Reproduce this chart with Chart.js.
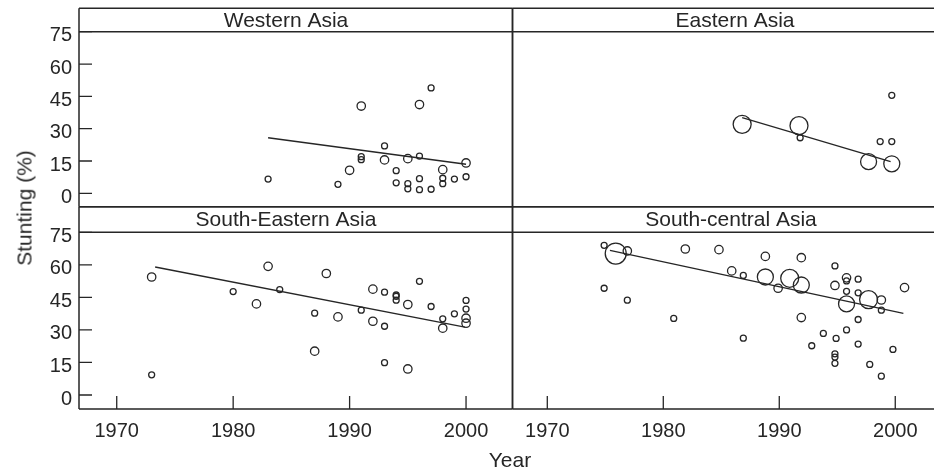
<!DOCTYPE html>
<html>
<head>
<meta charset="utf-8">
<script src="https://cdn.jsdelivr.net/npm/chart.js@4"></script>
<style>
  body { margin: 0; background: #fff; }
  #wrap { position: relative; width: 934px; height: 470px; overflow: hidden; }
  #wrap canvas { position: absolute; left: 0; top: 0; }
  .lab { position: absolute; font: 21px "Liberation Sans", Arial, sans-serif; color: #262626; line-height: 1; white-space: nowrap; }
</style>
</head>
<body>
<div id="wrap">
  <canvas id="pTL" width="934" height="470"></canvas>
  <canvas id="pTR" width="934" height="470"></canvas>
  <canvas id="pBL" width="934" height="470"></canvas>
  <canvas id="pBR" width="934" height="470"></canvas>
  <div class="lab" style="left:24px; top:208px; transform: translate(-50%,-50%) rotate(-90deg);">Stunting (%)</div>
  <div class="lab" style="left:510px; top:459px; transform: translate(-50%,-50%);">Year</div>
</div>
<script>
// axes
const yTicks = [0, 15, 30, 45, 60, 75];
const xTicks = [1970, 1980, 1990, 2000];

// Western Asia
const waYears   = [1983, 1989, 1990, 1991, 1991, 1991, 1993, 1993, 1994, 1994, 1995, 1995, 1995, 1996, 1996, 1996, 1996, 1997, 1997, 1998, 1998, 1998, 1999, 2000, 2000];
const waValues  = [6.6, 4.2, 10.7, 40.5, 17.0, 15.6, 22.0, 15.5, 10.5, 4.9, 16.1, 4.5, 2.1, 41.2, 17.3, 6.8, 1.7, 48.9, 1.9, 11.0, 7.0, 4.5, 6.6, 14.1, 7.7];
const waWeights = [1, 1, 2, 2, 1, 1, 1, 2, 1, 1, 2, 1, 1, 2, 1, 1, 1, 1, 1, 2, 1, 1, 1, 2, 1];
const waFitYears = [1983, 2000];
const waFitValues = [25.8, 13.5];

// Eastern Asia
const eaYears   = [1986.8, 1991.7, 1991.8, 1997.7, 1999.7, 1998.7, 1999.7, 1999.7];
const eaValues  = [32.0, 31.4, 25.8, 14.7, 13.7, 24.0, 24.0, 45.5];
const eaWeights = [4, 4, 1, 3, 3, 1, 1, 1];
const eaFitYears = [1986.8, 1999.6];
const eaFitValues = [35.1, 14.7];

// South-Eastern Asia
const seaYears   = [1973, 1973, 1980, 1982, 1983, 1984, 1987, 1987, 1988, 1989, 1991, 1992, 1992, 1993, 1993, 1993, 1994, 1994, 1994, 1995, 1995, 1996, 1997, 1998, 1998, 1999, 2000, 2000, 2000, 2000];
const seaValues  = [54.4, 9.3, 47.7, 42.0, 59.3, 48.6, 37.7, 20.2, 56.0, 36.0, 39.1, 48.8, 34.0, 47.4, 31.7, 14.9, 46.1, 45.5, 43.7, 41.7, 12.0, 52.4, 40.8, 35.1, 30.8, 37.4, 43.6, 39.6, 35.4, 33.1];
const seaWeights = [2, 1, 1, 2, 2, 1, 1, 2, 2, 2, 1, 2, 2, 1, 1, 1, 1, 1, 1, 2, 2, 1, 1, 1, 2, 1, 1, 1, 2, 2];
const seaFitYears = [1973.3, 1999.9];
const seaFitValues = [59.0, 31.3];

// South-central Asia
const scaYears   = [1974.9, 1975.9, 1976.9, 1974.9, 1976.9, 1980.9, 1981.9, 1984.8, 1985.9, 1986.9, 1986.9, 1988.8, 1988.8, 1989.9, 1990.9, 1991.9, 1991.9, 1991.9, 1992.8, 1993.8, 1994.8, 1994.8, 1994.9, 1994.8, 1994.8, 1994.8, 1995.8, 1995.8, 1995.8, 1995.8, 1995.8, 1996.8, 1996.8, 1996.8, 1996.8, 1997.7, 1997.8, 1998.8, 1998.8, 1998.8, 1999.8, 2000.8];
const scaValues  = [69.0, 65.2, 66.4, 49.2, 43.7, 35.3, 67.3, 67.0, 57.2, 55.1, 26.2, 63.9, 54.4, 49.2, 53.8, 63.3, 50.7, 35.7, 22.7, 28.4, 59.5, 50.5, 26.1, 19.0, 17.5, 14.6, 54.0, 52.6, 47.8, 42.0, 30.0, 53.4, 47.1, 34.8, 23.5, 44.0, 14.1, 43.8, 39.1, 8.7, 21.0, 49.5];
const scaWeights = [1, 5, 2, 1, 1, 1, 2, 2, 2, 1, 1, 2, 3, 2, 4, 2, 3, 2, 1, 1, 1, 2, 1, 1, 1, 1, 2, 1, 1, 3, 1, 1, 1, 1, 1, 4, 1, 2, 1, 1, 1, 2];
const scaFitYears = [1975.4, 2000.7];
const scaFitValues = [66.7, 37.6];

const INK = '#262626';
const FONT = '"Liberation Sans", Arial, sans-serif';
const RADIUS = { 1: 3, 2: 4.2, 3: 8, 4: 9, 5: 10.5 };

// frame, strip and inward ticks
const panelFrame = {
    id: 'panelFrame',
    afterDraw(chart, args, opts) {
        const { ctx, chartArea: a } = chart;
        ctx.save();
        ctx.strokeStyle = INK;
        ctx.lineWidth = 1.5;
        ctx.beginPath();
        ctx.moveTo(a.left, opts.stripTop); ctx.lineTo(a.right, opts.stripTop);
        ctx.moveTo(a.left, a.top); ctx.lineTo(a.right, a.top);
        ctx.moveTo(a.left, a.bottom); ctx.lineTo(a.right, a.bottom);
        ctx.moveTo(a.left, opts.stripTop); ctx.lineTo(a.left, a.bottom);
        if (a.right < chart.width - 1) {
            ctx.moveTo(a.right, opts.stripTop); ctx.lineTo(a.right, a.bottom);
        }
        ctx.stroke();

        // inward tick marks
        ctx.lineWidth = 1.3;
        ctx.beginPath();
        const xs = chart.scales.x, ys = chart.scales.y;
        if (xs.options.display) {
            xs.ticks.forEach(t => {
                const px = xs.getPixelForValue(t.value);
                ctx.moveTo(px, a.bottom); ctx.lineTo(px, a.bottom - 13);
            });
        }
        if (ys.options.display) {
            ys.ticks.forEach(t => {
                const py = ys.getPixelForValue(t.value);
                ctx.moveTo(a.left, py); ctx.lineTo(a.left + 13, py);
            });
        }
        ctx.stroke();

        ctx.fillStyle = INK;
        ctx.font = '21px ' + FONT;
        ctx.textAlign = 'center';
        ctx.textBaseline = 'middle';
        ctx.fillText(opts.title, opts.titleX, (opts.stripTop + a.top) / 2 + 1);
        ctx.restore();
    }
};

function makePanel(id, p) {
    const pts = p.years.map((x, i) => ({ x: x, y: p.values[i] }));
    const fit = p.fitYears.map((x, i) => ({ x: x, y: p.fitValues[i] }));
    const rad = ctx => RADIUS[p.weights[ctx.dataIndex]];
    new Chart(document.getElementById(id), {
        type: 'scatter',
        data: {
            datasets: [{
                data: pts,
                borderColor: INK,
                backgroundColor: 'rgba(0,0,0,0)',
                borderWidth: 1.3,
                pointRadius: rad,
                pointHoverRadius: rad
            }, {
                data: fit,
                showLine: true,
                borderColor: INK,
                borderWidth: 1.3,
                pointRadius: 0,
                fill: false
            }]
        },
        options: {
            responsive: false,
            animation: false,
            devicePixelRatio: 1,
            events: [],
            layout: { padding: p.padding, autoPadding: false },
            plugins: {
                legend: { display: false },
                tooltip: { enabled: false },
                panelFrame: { title: p.title, titleX: p.titleX, stripTop: p.stripTop }
            },
            scales: {
                x: {
                    type: 'linear',
                    position: 'bottom',
                    display: p.showX,
                    min: p.xMin,
                    max: p.xMax,
                    afterBuildTicks: s => { s.ticks = xTicks.map(v => ({ value: v })); },
                    afterFit: s => { s.height = p.showX ? 61 : 0; s.paddingLeft = 0; s.paddingRight = 0; },
                    grid: { display: false, drawTicks: false },
                    border: { display: false },
                    ticks: {
                        padding: 10, color: INK, font: { family: FONT, size: 20 },
                        maxRotation: 0, autoSkip: false,
                        callback: v => String(v)
                    }
                },
                y: {
                    type: 'linear',
                    position: 'left',
                    display: p.showY,
                    min: p.yMin,
                    max: 75,
                    afterBuildTicks: s => { s.ticks = yTicks.map(v => ({ value: v })); },
                    afterFit: s => { s.width = p.showY ? 79 : 0; s.paddingTop = 0; s.paddingBottom = 0; },
                    grid: { display: false, drawTicks: false },
                    border: { display: false },
                    ticks: {
                        padding: 7, labelOffset: 4, color: INK, font: { family: FONT, size: 20 },
                        autoSkip: false,
                        callback: v => String(v)
                    }
                }
            }
        },
        plugins: [panelFrame]
    });
}

makePanel('pTL', {
    title: 'Western Asia', titleX: 286, stripTop: 8.3,
    years: waYears, values: waValues, weights: waWeights,
    fitYears: waFitYears, fitValues: waFitValues,
    showX: false, showY: true, xMin: 1966.76, xMax: 2003.99, yMin: -6.2,
    padding: { left: 0, right: 421.5, top: 31.7, bottom: 263.3 }
});
makePanel('pTR', {
    title: 'Eastern Asia', titleX: 735, stripTop: 8.3,
    years: eaYears, values: eaValues, weights: eaWeights,
    fitYears: eaFitYears, fitValues: eaFitValues,
    showX: false, showY: false, xMin: 1967, xMax: 2003.34, yMin: -6.2,
    padding: { left: 512.5, right: 0, top: 31.7, bottom: 263.3 }
});
makePanel('pBL', {
    title: 'South-Eastern Asia', titleX: 286, stripTop: 206.7,
    years: seaYears, values: seaValues, weights: seaWeights,
    fitYears: seaFitYears, fitValues: seaFitValues,
    showX: true, showY: true, xMin: 1966.76, xMax: 2003.99, yMin: -6.45,
    padding: { left: 0, right: 421.5, top: 232.3, bottom: 0 }
});
makePanel('pBR', {
    title: 'South-central Asia', titleX: 731, stripTop: 206.7,
    years: scaYears, values: scaValues, weights: scaWeights,
    fitYears: scaFitYears, fitValues: scaFitValues,
    showX: true, showY: false, xMin: 1967, xMax: 2003.34, yMin: -6.45,
    padding: { left: 512.5, right: 0, top: 232.3, bottom: 0 }
});
</script>
</body>
</html>
